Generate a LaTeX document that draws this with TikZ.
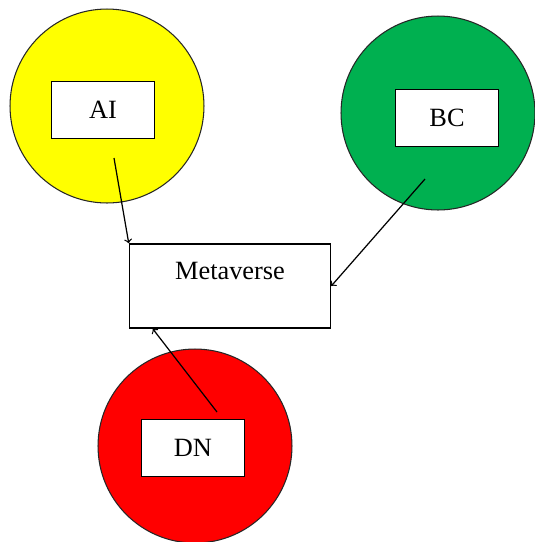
\documentclass[tikz,border=0pt]{standalone}
\usepackage{fontspec}
\setmainfont{Liberation Serif}
\usetikzlibrary{arrows,positioning}
\definecolor{ballyellow}{RGB}{255,255,0}
\definecolor{ballgreen}{RGB}{0,176,80}
\definecolor{ballred}{RGB}{255,0,0}
\tikzset{
  ball/.style={circle,draw=black!85,line width=0.6pt,minimum size=3.88cm,inner sep=0pt},
  tag/.style={rectangle,draw,line width=0.9pt,fill=white,minimum width=2.06cm,minimum height=1.14cm,font=\fontsize{15}{18}\selectfont},
  hub/.style={rectangle,draw,line width=0.9pt,minimum width=4.02cm,minimum height=1.68cm,
    text height=0.4cm,text depth=0.68cm,font=\fontsize{15}{18}\selectfont}
}
\begin{document}
\begin{tikzpicture}[x=0.02cm,y=-0.02cm,>=to,shorten >=0pt]
        \useasboundingbox (0,0) rectangle (535,542);

        \node[ball,fill=ballyellow]  (Yel)  at (107,106)  { };
        \node[ball,fill=ballgreen]   (Grn)  at (438,113)  { };
        \node[ball,fill=ballred]     (Red)  at (195,446)  { };

        \node[tag]  (AI)  at (103,110)  {AI};
        \node[tag]  (BC)  at (447,118)  {BC};
        \node[tag]  (DN)  at (193,448)  {DN};

        \node[hub]  (Meta)  at (230,286)  {Metaverse};

        \coordinate (AItail)  at (114,158);
        \coordinate (BCtail)  at (425,179);
        \coordinate (DNtail)  at (217,412);

        \path[->,line width=0.7pt]
                  (AItail) edge (Meta.north west)
                  (BCtail) edge (Meta.east)
                  (DNtail) edge ([xshift=0.48cm]Meta.south west);
\end{tikzpicture}
\end{document}
